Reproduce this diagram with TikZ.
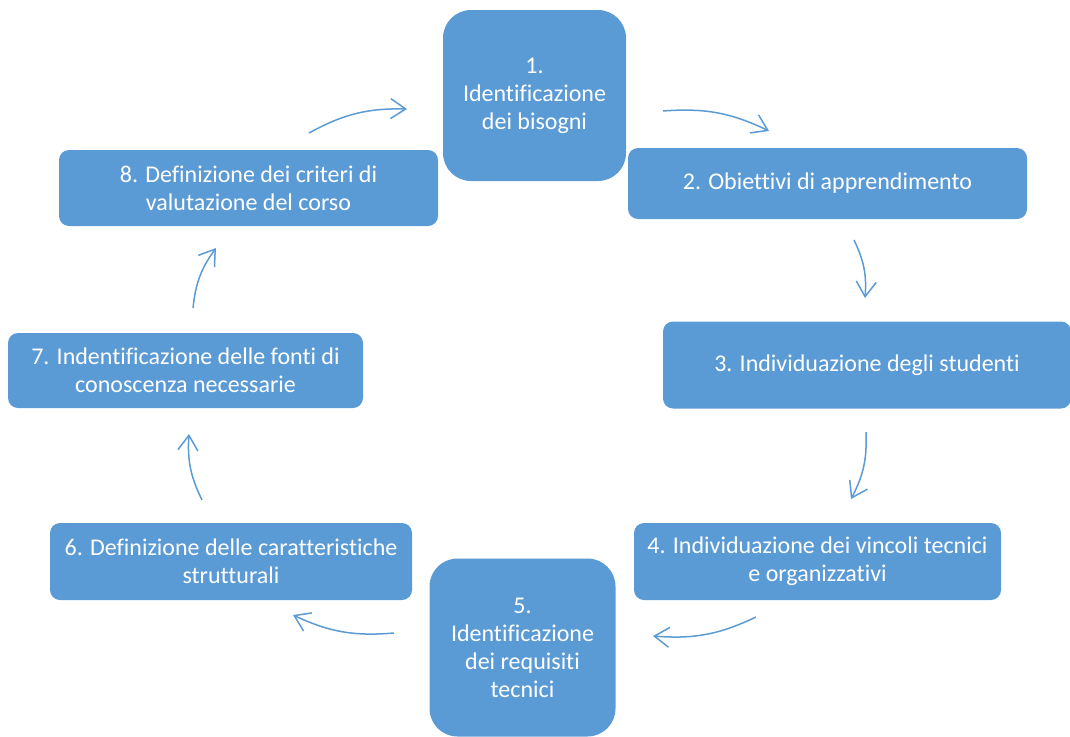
\documentclass[tikz,border=0pt]{standalone}
\usepackage{fontspec}
\setmainfont{Carlito}[Ligatures=NoCommon]
\usepackage{xcolor}
\definecolor{boxblue}{RGB}{91,155,213}
\usetikzlibrary{arrows.meta}

\begin{document}
\begin{tikzpicture}[x=1pt,y=-1pt,
    stepbox/.style={fill=boxblue,text=white,rounded corners=10pt,align=center,
      inner sep=0pt,font=\fontsize{24}{28}\selectfont},
    roundbox/.style={stepbox,rounded corners=28pt},
    flow/.style={boxblue,line width=1.5pt,bend left=15,
      -{Straight Barb[length=15pt,width=20pt]}}]
    % Page
    \useasboundingbox (0,0) rectangle (1070,736);
    % Steps
    \node[roundbox,minimum width=183pt,minimum height=171pt] (s1) at (534.5,95.5)
        {1.\\Identificazione\\dei bisogni};
    \node[stepbox,minimum width=399pt,minimum height=71pt] (s2) at (827.5,183.5)
        {2. Obiettivi di apprendimento};
    \node[stepbox,minimum width=408pt,minimum height=87pt] (s3) at (867,365)
        {3. Individuazione degli studenti};
    \node[stepbox,minimum width=367pt,minimum height=77pt] (s4) at (817.5,561.5)
        {4. Individuazione dei vincoli tecnici\\e organizzativi};
    \node[roundbox,minimum width=186pt,minimum height=178pt] (s5) at (522.5,647.5)
        {5.\\Identificazione\\dei requisiti\\tecnici};
    \node[stepbox,minimum width=362pt,minimum height=77pt] (s6) at (231,561.5)
        {6. Definizione delle caratteristiche\\strutturali};
    \node[stepbox,minimum width=355pt,minimum height=75pt] (s7) at (185.5,370.5)
        {7. Indentificazione delle fonti di\\conoscenza necessarie};
    \node[stepbox,minimum width=379pt,minimum height=76pt] (s8) at (248.5,188)
        {8. Definizione dei criteri di\\valutazione del corso};
    % Arrow ends
    \coordinate (a12) at (663,111);  \coordinate (b12) at (769,131);
    \coordinate (a23) at (854,240);  \coordinate (b23) at (865,298);
    \coordinate (a34) at (866,432);  \coordinate (b34) at (851,499);
    \coordinate (a45) at (756,617);  \coordinate (b45) at (653,636);
    \coordinate (a56) at (394,633);  \coordinate (b56) at (293,615);
    \coordinate (a67) at (202,500);  \coordinate (b67) at (189,434);
    \coordinate (a78) at (193,308);  \coordinate (b78) at (216,248);
    \coordinate (a81) at (309,133);  \coordinate (b81) at (407,109);
    % Arrows
    \foreach \p in {12,23,34,45,56,67,78,81}
        \draw[flow] (a\p) to (b\p);
\end{tikzpicture}
\end{document}
